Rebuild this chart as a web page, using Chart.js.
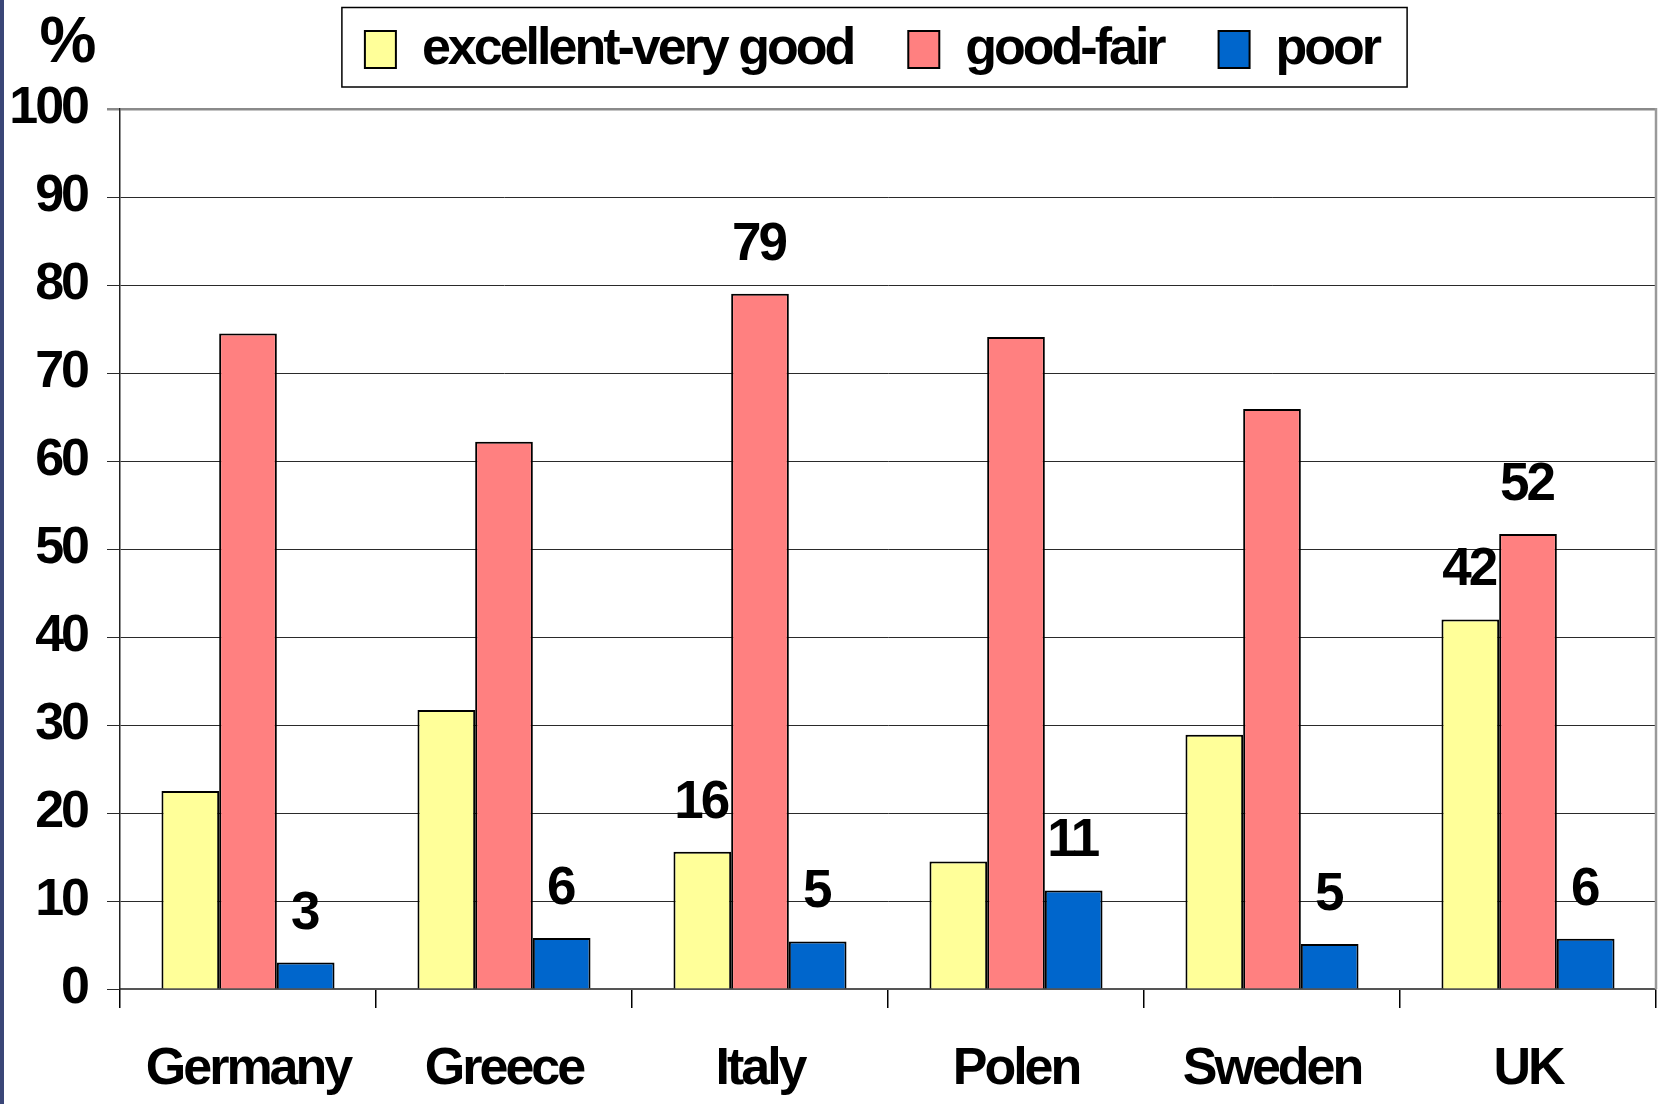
<!DOCTYPE html>
<html>
<head>
<meta charset="utf-8">
<script src="https://cdn.jsdelivr.net/npm/chart.js@4.4.1/dist/chart.umd.min.js"></script>
<style>
html, body { margin: 0; padding: 0; background: #ffffff; }
#wrap { position: relative; width: 1667px; height: 1104px; overflow: hidden; }
#strip { position: absolute; left: 0; top: 0; width: 4px; height: 1104px; background: #3a4677; }
canvas { display: block; }
</style>
</head>
<body>
<div id="wrap">
  <canvas id="chart" width="1667" height="1104"></canvas>
  <div id="strip"></div>
</div>
<script>
// ---- data ----
const categories = ['Germany', 'Greece', 'Italy', 'Polen', 'Sweden', 'UK'];
const seriesNames = ['excellent-very good', 'good-fair', 'poor'];
const excellentVeryGood = [22.5, 31.7, 15.6, 14.5, 28.9, 42.0];
const goodFair = [74.5, 62.2, 79.0, 74.1, 65.9, 51.7];
const poor = [3.0, 5.8, 5.4, 11.2, 5.1, 5.7];
const labelledExcellent = [false, false, true, false, false, true];
const labelledGood = [false, false, true, false, false, true];
const labelledPoor = [true, true, true, true, true, true];
const yTickValues = [0, 10, 20, 30, 40, 50, 60, 70, 80, 90, 100];
const yUnitLabel = '%';

// ---- styling ----
const FONT = '"Liberation Sans", Arial, sans-serif';
const FONT_SIZE = 52;
const LETTER_SPACING = '-3px';
const COLORS = ['#FFFF99', '#FF8080', '#0066CC'];

const condensed = {
  id: 'condensed',
  beforeUpdate(chart) { chart.ctx.letterSpacing = LETTER_SPACING; },
  beforeLayout(chart) { chart.ctx.letterSpacing = LETTER_SPACING; },
  beforeDraw(chart) { chart.ctx.letterSpacing = LETTER_SPACING; }
};

const legendShift = {
  id: 'legendShift',
  afterLayout(chart) {
    const lg = chart.legend;
    if (!lg) return;
    const pad = lg.options.labels.padding;
    const dy = 23.5 - (lg.top + pad);
    const dx = 872 - (lg.left + lg.right) / 2;
    lg.top += dy;
    lg.bottom += dy;
    lg.left += dx;
    lg.right += dx;
  }
};

const valueLabels = {
  id: 'valueLabels',
  afterDatasetDraw(chart, args) {
    const ds = chart.data.datasets[args.index];
    const ctx = chart.ctx;
    ctx.save();
    ctx.letterSpacing = '-3px';
    ctx.font = 'bold 53px ' + FONT;
    ctx.fillStyle = '#000';
    ctx.textAlign = 'center';
    ctx.textBaseline = 'alphabetic';
    args.meta.data.forEach((bar, i) => {
      if (!ds.labelled[i]) return;
      ctx.fillText(String(Math.round(ds.data[i])), bar.x - 1.5, bar.y - 34);
    });
    ctx.restore();
  }
};

const decor = {
  id: 'decor',
  afterDraw(chart) {
    const ctx = chart.ctx;
    const ca = chart.chartArea;
    ctx.save();
    // right edge of plot
    ctx.strokeStyle = '#9a9a9a';
    ctx.lineWidth = 2.5;
    ctx.beginPath();
    ctx.moveTo(ca.right, ca.top - 1);
    ctx.lineTo(ca.right, ca.bottom);
    ctx.stroke();
    // legend frame
    const hb = chart.legend.legendHitBoxes;
    if (hb && hb.length) {
      const first = hb[0], last = hb[hb.length - 1];
      const x0 = first.left - 23, x1 = last.left + last.width + 28;
      const y0 = first.top - 16, y1 = first.top + 63.5;
      ctx.strokeStyle = '#000';
      ctx.lineWidth = 1.5;
      ctx.strokeRect(x0, y0, x1 - x0, y1 - y0);
    }
    // unit label
    ctx.letterSpacing = '0px';
    ctx.font = 'bold 64px ' + FONT;
    ctx.fillStyle = '#000';
    ctx.textAlign = 'center';
    ctx.textBaseline = 'alphabetic';
    ctx.fillText(yUnitLabel, 68, 62);
    ctx.restore();
  }
};

new Chart(document.getElementById('chart'), {
  type: 'bar',
  data: {
    labels: categories,
    datasets: [
      { label: seriesNames[0], data: excellentVeryGood, backgroundColor: COLORS[0], labelled: labelledExcellent },
      { label: seriesNames[1], data: goodFair, backgroundColor: COLORS[1], labelled: labelledGood },
      { label: seriesNames[2], data: poor, backgroundColor: COLORS[2], labelled: labelledPoor }
    ]
  },
  options: {
    responsive: false,
    animation: false,
    devicePixelRatio: 1,
    datasets: {
      bar: {
        categoryPercentage: 0.676,
        barPercentage: 1.0,
        borderColor: '#000',
        borderWidth: 2
      }
    },
    layout: { padding: { top: -8, left: 0, right: 11, bottom: 0 } },
    plugins: {
      tooltip: { enabled: false },
      title: { display: false },
      legend: {
        position: 'top',
        align: 'center',
        labels: {
          font: { family: FONT, size: FONT_SIZE, weight: 'bold' },
          color: '#000',
          boxWidth: 31,
          boxHeight: 37,
          padding: 55
        }
      }
    },
    scales: {
      x: {
        grid: { offset: true, drawOnChartArea: false, drawTicks: true, tickLength: 19, color: '#000', lineWidth: 1.5 },
        border: { display: true, color: '#555', width: 2 },
        ticks: { font: { family: FONT, size: FONT_SIZE, weight: 'bold' }, color: '#000', padding: 30, maxRotation: 0 },
        afterFit(scale) { scale.height = 115; }
      },
      y: {
        min: 0,
        max: 100,
        afterBuildTicks(scale) { scale.ticks = yTickValues.map(v => ({ value: v })); },
        ticks: { font: { family: FONT, size: FONT_SIZE, weight: 'bold' }, color: '#000', padding: 20 },
        grid: {
          color: (c) => (c.tick && c.tick.value === 100 ? '#8a8a8a' : '#2a2a2a'),
          lineWidth: (c) => (c.tick && c.tick.value === 100 ? 2.5 : 1),
          tickLength: 13
        },
        border: { display: true, color: '#222', width: 1.5 },
        afterFit(scale) { scale.width = 120; }
      }
    }
  },
  plugins: [condensed, legendShift, valueLabels, decor]
});
</script>
</body>
</html>
